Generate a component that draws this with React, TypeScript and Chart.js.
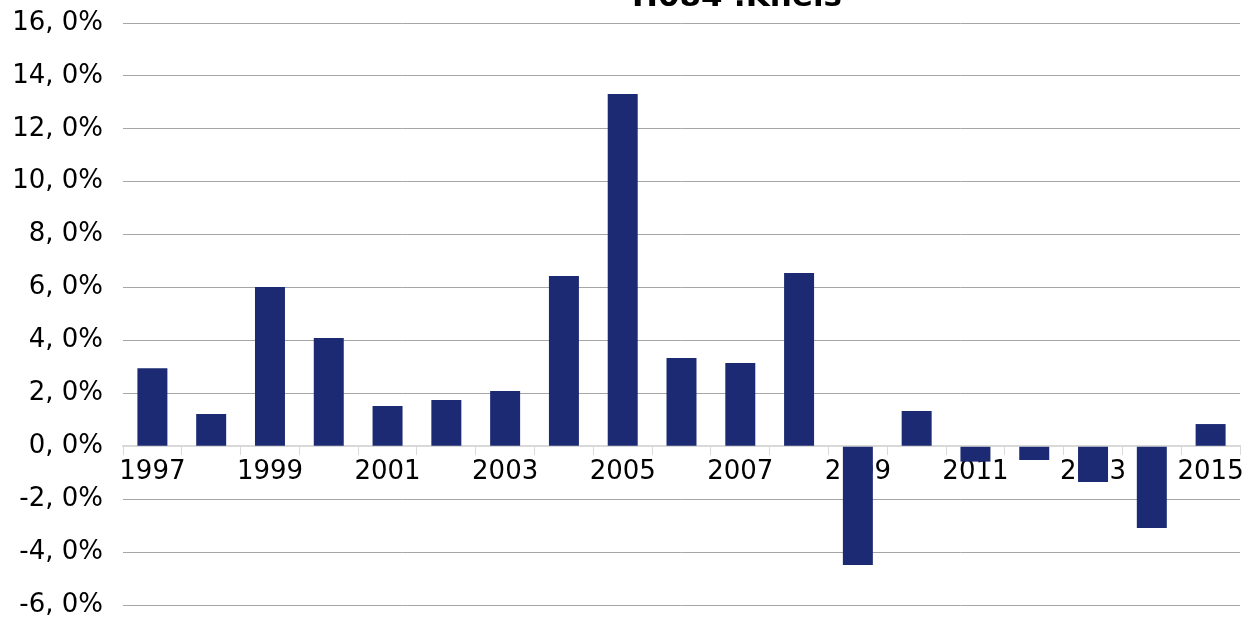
import React, { useEffect, useRef } from "react";
import { Chart, registerables } from "chart.js";

Chart.register(...registerables);

const years = [
  "1997", "1998", "1999", "2000", "2001", "2002", "2003", "2004", "2005", "2006",
  "2007", "2008", "2009", "2010", "2011", "2012", "2013", "2014", "2015",
];
const growth = [
  2.95, 1.22, 6.02, 4.09, 1.52, 1.75, 2.09, 6.44, 13.32, 3.34,
  3.15, 6.55, -4.49, 1.33, -0.58, -0.52, -1.35, -3.09, 0.84,
];
const titleText = "H084 :Khels";
const FONT = "'DejaVu Sans', Verdana, sans-serif";

const titlePlugin = {
  id: "clippedTitle",
  afterDraw(chart: Chart) {
    const ctx = chart.ctx;
    ctx.save();
    ctx.font = `bold 31px ${FONT}`;
    ctx.fillStyle = "#000";
    ctx.textAlign = "center";
    ctx.textBaseline = "alphabetic";
    ctx.fillText(titleText, 737, 6);
    ctx.restore();
  },
};

export default function App() {
  const ref = useRef<HTMLCanvasElement>(null);

  useEffect(() => {
    if (!ref.current) return;
    const chart = new Chart(ref.current, {
      type: "bar",
      data: {
        labels: years,
        datasets: [
          {
            data: growth,
            backgroundColor: "#1b2a72",
            barPercentage: 0.51,
            categoryPercentage: 1,
          },
        ],
      },
      plugins: [titlePlugin],
      options: {
        animation: false,
        responsive: false,
        layout: { padding: { top: 23, bottom: 13, left: 0, right: 8 } },
        plugins: {
          legend: { display: false },
          tooltip: { enabled: false },
          title: { display: false },
        },
        scales: {
          x: {
            position: { y: 0 } as any,
            offset: true,
            afterFit(scale: any) {
              scale.paddingLeft = 0;
              scale.paddingRight = 0;
            },
            grid: {
              offset: true,
              drawOnChartArea: false,
              drawTicks: true,
              tickLength: 8,
              color: "#d9d9d9",
              lineWidth: 1,
            },
            border: { display: true, color: "#d9d9d9", width: 2 },
            ticks: {
              autoSkip: false,
              maxRotation: 0,
              padding: 2,
              color: "#000",
              font: { family: FONT, size: 26 },
              callback: (_v: any, i: number) => (i % 2 === 0 ? years[i] : ""),
            },
          },
          y: {
            min: -6,
            max: 16,
            afterFit(scale: any) {
              scale.width = 123;
              scale.paddingTop = 0;
              scale.paddingBottom = 0;
            },
            ticks: {
              stepSize: 2,
              padding: 20,
              color: "#000",
              font: { family: FONT, size: 26 },
              callback: (v: any) => `${v}, 0%`,
            },
            grid: {
              drawTicks: false,
              color: (c: any) => (c.tick && c.tick.value === 0 ? "rgba(0,0,0,0)" : "#a6a6a6"),
              lineWidth: 1,
            },
            border: { display: false },
          },
        },
      },
    });
    return () => chart.destroy();
  }, []);

  return (
    <canvas
      ref={ref}
      width={1248}
      height={618}
      style={{ position: "absolute", left: 0, top: 0, width: 1248, height: 618 }}
    />
  );
}
